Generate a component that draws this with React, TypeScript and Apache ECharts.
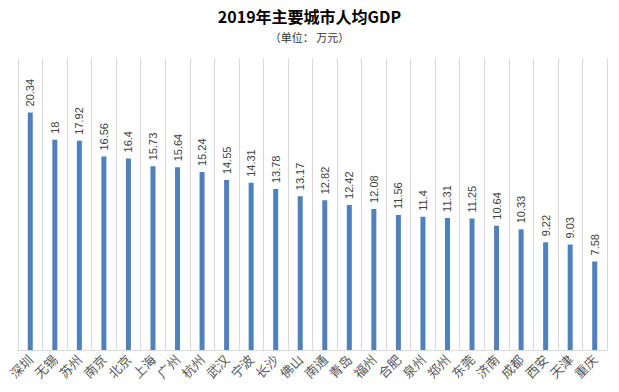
import React, { useEffect, useRef } from "react";
import * as echarts from "echarts";

const cities = ["深圳", "无锡", "苏州", "南京", "北京", "上海", "广州", "杭州", "武汉", "宁波", "长沙", "佛山", "南通", "青岛", "福州", "合肥", "泉州", "郑州", "东莞", "济南", "成都", "西安", "天津", "重庆"];
const gdpPerCapita = [20.34, 18, 17.92, 16.56, 16.4, 15.73, 15.64, 15.24, 14.55, 14.31, 13.78, 13.17, 12.82, 12.42, 12.08, 11.56, 11.4, 11.31, 11.25, 10.64, 10.33, 9.22, 9.03, 7.58];
const titleText = "2019年主要城市人均GDP";
const subtitleText = "（单位： 万元）";

export default function App() {
  const ref = useRef<HTMLDivElement>(null);
  useEffect(() => {
    document.body.style.margin = "0";
    const chart = echarts.init(ref.current!, null, { renderer: "svg" });
    chart.setOption({
      animation: false,
      backgroundColor: "#ffffff",
      title: [
        {
          text: titleText,
          left: "center",
          top: 6,
          padding: 0,
          textStyle: { fontSize: 16, fontWeight: "bold", color: "#000", fontFamily: "Noto Sans CJK SC", lineHeight: 20 },
        },
        {
          text: subtitleText,
          left: "center",
          top: 30,
          padding: 0,
          textStyle: { fontSize: 11, fontWeight: "normal", color: "#333", fontFamily: "Noto Sans CJK SC", lineHeight: 13 },
        },
      ],
      grid: { left: 18, right: 12, top: 58, bottom: 42, containLabel: false },
      xAxis: {
        type: "category",
        data: cities,
        axisLine: { show: true, lineStyle: { color: "#d9d9d9" } },
        axisTick: { show: false },
        splitLine: { show: true, lineStyle: { color: "#d9d9d9", width: 1 } },
        axisLabel: {
          interval: 0,
          rotate: 45,
          fontSize: 13,
          color: "#595959",
          margin: 7,
          fontFamily: "Noto Sans CJK SC",
        },
      },
      yAxis: {
        type: "value",
        min: 0,
        max: 25,
        show: false,
        splitLine: { show: false },
      },
      series: [
        {
          type: "bar",
          data: gdpPerCapita,
          barWidth: 5,
          itemStyle: { color: "#4f81bd" },
          label: {
            show: true,
            position: "top",
            rotate: 90,
            align: "left",
            verticalAlign: "middle",
            distance: 6,
            fontSize: 11,
            color: "#404040",
            fontFamily: "Liberation Sans",
          },
        },
      ],
    });
    return () => chart.dispose();
  }, []);
  return <div ref={ref} style={{ width: 619, height: 392 }} />;
}
